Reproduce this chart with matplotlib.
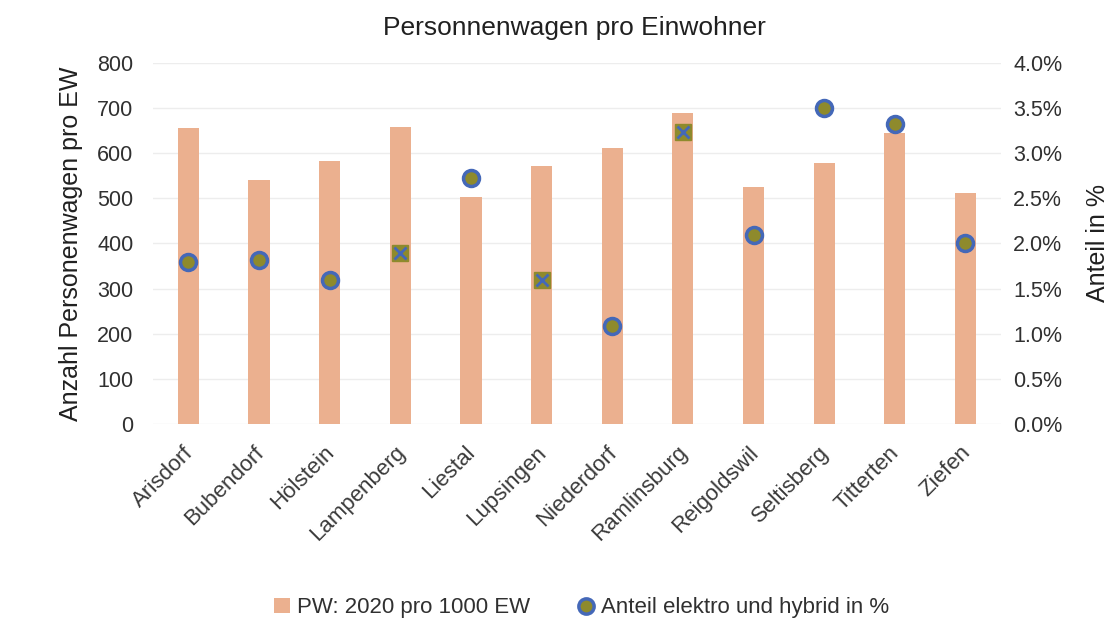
import matplotlib.pyplot as plt
from matplotlib.ticker import FuncFormatter, MultipleLocator
from matplotlib.lines import Line2D
from matplotlib.patches import Patch
from matplotlib.transforms import ScaledTranslation
import numpy as np

plt.rcParams["font.family"] = ["Liberation Sans", "DejaVu Sans"]

# --------------------
# Data
# --------------------
gemeinden = ["Arisdorf", "Bubendorf", "Hölstein", "Lampenberg", "Liestal", "Lupsingen",
             "Niederdorf", "Ramlinsburg", "Reigoldswil", "Seltisberg", "Titterten", "Ziefen"]
pw_pro_1000 = [656, 541, 583, 659, 503, 572, 612, 689, 525, 579, 645, 512]
anteil_elektro = [0.0180, 0.0182, 0.0160, 0.0189, 0.0273, 0.0160,
                  0.0109, 0.0324, 0.0209, 0.0350, 0.0332, 0.0201]

bar_color = "#EBB08F"
dot_face = "#8E8A2C"
dot_edge = "#4468B8"
text_color = "#303030"
# scanned original shows some points as squares with a cross
square_points = [3, 5, 7]

fig = plt.figure(figsize=(11.12, 6.42), dpi=100)
ax = fig.add_axes([0.1376, 0.3396, 0.7624, 0.5623])
ax2 = ax.twinx()

x = np.arange(len(gemeinden))
ax.bar(x, pw_pro_1000, width=0.3, color=bar_color, zorder=2)

# --------------------
# Secondary axis markers
# --------------------
round_idx = [i for i in x if i not in square_points]
ax2.plot(x[round_idx], np.array(anteil_elektro)[round_idx], linestyle="none", marker="o",
         markersize=11.5, markerfacecolor=dot_face, markeredgecolor=dot_edge,
         markeredgewidth=2.5, zorder=3)
ax2.plot(x[square_points], np.array(anteil_elektro)[square_points], linestyle="none", marker="s",
         markersize=11, markerfacecolor=dot_face, markeredgecolor=dot_face, zorder=3)
ax2.plot(x[square_points], np.array(anteil_elektro)[square_points], linestyle="none", marker="x",
         markersize=8, markeredgecolor=dot_edge, markeredgewidth=2, zorder=4)

# --------------------
# Axes styling
# --------------------
ax.set_xlim(-0.5, len(gemeinden) - 0.5)
ax.set_ylim(0, 800)
ax.yaxis.set_major_locator(MultipleLocator(100))
ax2.set_ylim(0, 0.04)
ax2.yaxis.set_major_locator(MultipleLocator(0.005))
ax2.yaxis.set_major_formatter(FuncFormatter(lambda v, p: f"{v * 100:.1f}%"))

ax.grid(axis="y", color="#EDEDED", linewidth=1, zorder=0)
ax.set_axisbelow(True)
for a in (ax, ax2):
    for s in a.spines.values():
        s.set_visible(False)

ax.tick_params(axis="y", length=0, pad=14, labelsize=15.5, labelcolor=text_color)
ax2.tick_params(axis="y", length=0, pad=9, labelsize=15.5, labelcolor=text_color)
ax.tick_params(axis="x", length=0, pad=13)
ax.set_xticks(x)
ax.set_xticklabels(gemeinden, rotation=45, ha="right", rotation_mode="anchor",
                   fontsize=16, color="#3A3A3A")
shift = ScaledTranslation(-6 / 100, 0, fig.dpi_scale_trans)
for lbl in ax.get_xticklabels():
    lbl.set_transform(lbl.get_transform() + shift)

ax.set_ylabel("Anzahl Personenwagen pro EW", fontsize=18, color="#202020", labelpad=10)
ax2.set_ylabel("Anteil in %", fontsize=18, color="#202020", labelpad=17)
fig.text(0.517, 0.957, "Personnenwagen pro Einwohner", ha="center", va="center",
         fontsize=19, color="#202020")

# --------------------
# Legend
# --------------------
handles = [
    Patch(facecolor=bar_color, edgecolor="none"),
    Line2D([], [], linestyle="none", marker="o", markersize=11, markerfacecolor=dot_face,
           markeredgecolor=dot_edge, markeredgewidth=2.5),
]
labels = ["PW: 2020 pro 1000 EW", "Anteil elektro und hybrid in %"]
fig.legend(handles, labels, loc="center", bbox_to_anchor=(0.523, 0.053), ncol=2,
           frameon=False, fontsize=16, handlelength=0.7, handleheight=0.7,
           handletextpad=0.3, columnspacing=2.2, labelcolor=text_color)

fig.savefig("out.png", dpi=100, facecolor="white")
